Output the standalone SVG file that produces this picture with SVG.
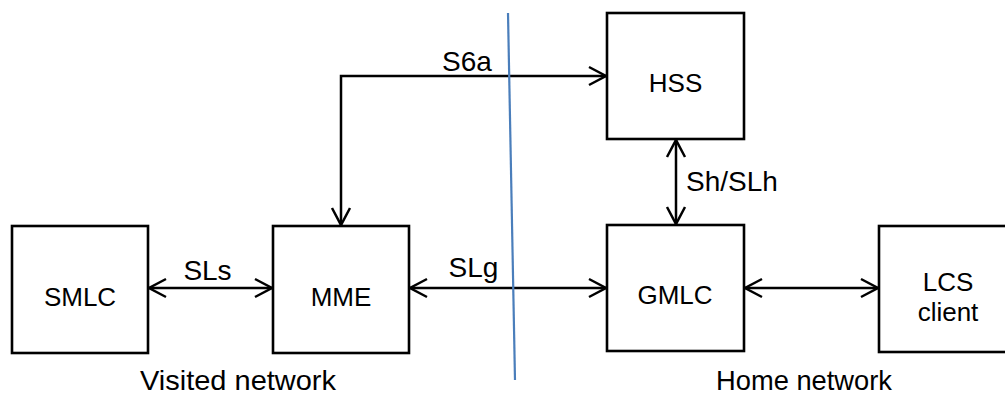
<svg xmlns="http://www.w3.org/2000/svg" width="1005" height="397" viewBox="0 0 1005 397">
<defs>
<marker id="arr" markerUnits="userSpaceOnUse" viewBox="-20 -12 24 24" refX="0" refY="0" markerWidth="24" markerHeight="24" orient="auto-start-reverse">
<path d="M -17 -9 L 0 0 L -17 9" fill="none" stroke="#000" stroke-width="2.5" stroke-linejoin="miter"/>
</marker>
</defs>
<style>
.box{fill:#fff;stroke:#000;stroke-width:2.6}
.lbl{font-family:"Liberation Sans",Arial,sans-serif;font-size:26px;fill:#000;text-anchor:middle}
.clbl{font-family:"Liberation Sans",Arial,sans-serif;font-size:28px;fill:#000}
.con{fill:none;stroke:#000;stroke-width:2.5;marker-start:url(#arr);marker-end:url(#arr)}
</style>
<rect width="1005" height="397" fill="#fff"/>
<g id="connectors">
<line class="con" x1="149" y1="288" x2="272" y2="288"/>
<line class="con" x1="410" y1="288" x2="606" y2="288"/>
<line class="con" x1="745" y1="288" x2="878" y2="288"/>
<line class="con" x1="676" y1="140" x2="676" y2="224"/>
<path class="con" d="M 341 225 L 341 76 L 606 76"/>
<text class="clbl" x="207.5" y="280" text-anchor="middle">SLs</text>
<text class="clbl" x="473.5" y="277" text-anchor="middle">SLg</text>
<text class="clbl" x="467" y="71" text-anchor="middle">S6a</text>
<text class="clbl" x="686" y="191">Sh/SLh</text>
</g>
<g id="boundary">
<line x1="508" y1="13" x2="515" y2="380" stroke="#4a7ebb" stroke-width="2.2"/>
<text class="clbl" x="238" y="390" text-anchor="middle" textLength="196" lengthAdjust="spacingAndGlyphs">Visited network</text>
<text class="clbl" x="804" y="390" text-anchor="middle" textLength="176" lengthAdjust="spacingAndGlyphs">Home network</text>
</g>
<g id="SMLC">
<rect class="box" x="12" y="226" width="136" height="127"/>
<text class="lbl" x="80" y="306">SMLC</text>
</g>
<g id="MME">
<rect class="box" x="273" y="226" width="136" height="127"/>
<text class="lbl" x="341" y="306">MME</text>
</g>
<g id="HSS">
<rect class="box" x="607" y="13" width="137" height="126"/>
<text class="lbl" x="675.5" y="92">HSS</text>
</g>
<g id="GMLC">
<rect class="box" x="607" y="225" width="137" height="126"/>
<text class="lbl" x="675" y="304">GMLC</text>
</g>
<g id="LCS_client">
<rect class="box" x="879" y="226" width="137" height="126"/>
<text class="lbl" x="948" y="291">LCS</text>
<text class="lbl" x="948" y="321">client</text>
</g>
</svg>
